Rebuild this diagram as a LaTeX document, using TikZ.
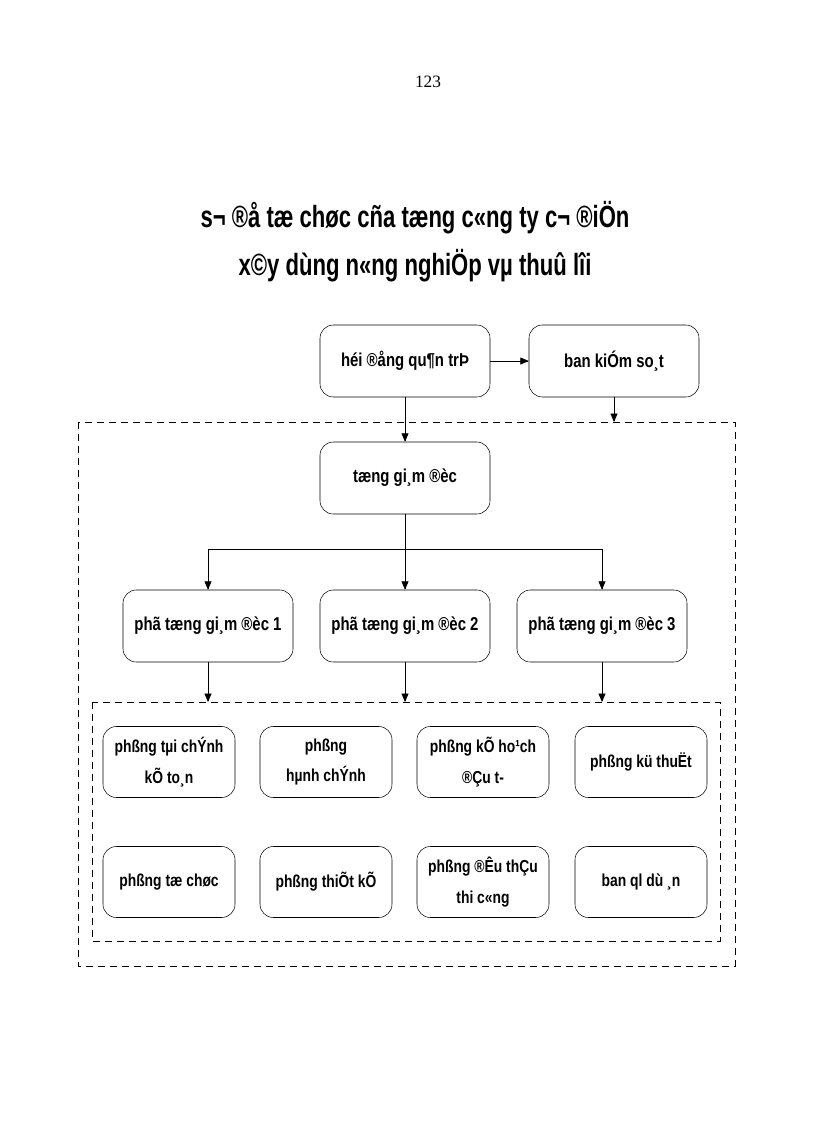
\documentclass[tikz,border=0pt]{standalone}
\usepackage{fontspec}
\setmainfont{Liberation Serif}
\newfontfamily\boxfont[FakeStretch=0.8]{Liberation Sans Bold}
\newfontfamily\titlefont[FakeStretch=0.72]{Liberation Sans Bold}
\usetikzlibrary{positioning,arrows}
\tikzstyle{unit} = [draw, rounded corners=10pt, minimum width=170*0.75pt, minimum height=72*0.75pt, align=center, font=\boxfont\fontsize{14}{20}\selectfont]
\tikzstyle{dept} = [unit, minimum width=132*0.75pt, minimum height=71*0.75pt, font=\boxfont\fontsize{13}{23}\selectfont]
\tikzstyle{frame} = [draw, dashed, dash pattern=on 5pt off 4pt]
\tikzstyle{link} = [-triangle 45, thin]
\begin{document}
\begin{tikzpicture}[x=0.75pt, y=-0.75pt]
  \useasboundingbox (0,0) rectangle (816,1123);
  \node (page) at (428,82) {\fontsize{13}{14}\selectfont 123};
  \node (title) at (415,242) [align=center, font=\titlefont\fontsize{23}{36}\selectfont] {s¬ ®å tæ chøc cña tæng c«ng ty c¬ ®iÖn\\ x©y dùng n«ng nghiÖp vµ thuû lîi};
  % outer and inner dashed frames
  \draw [frame] (78,422) rectangle (735,966);
  \draw [frame] (92,702) rectangle (720,941);
  % management
  \node (hd) at (405,361) [unit] {héi ®ång qu¶n trÞ};
  \node (bks) at (614,361) [unit] {ban kiÓm so¸t};
  \node (tgd) at (405,478) [unit] {tæng gi¸m ®èc};
  \node (pho1) at (208,626) [unit] {phã tæng gi¸m ®èc 1};
  \node (pho2) at (405,626) [unit] {phã tæng gi¸m ®èc 2};
  \node (pho3) at (602,626) [unit] {phã tæng gi¸m ®èc 3};
  % departments
  \node (tckt) at (169,762) [dept] {phßng tµi chÝnh\\ kÕ to¸n};
  \node (hc) at (326,762) [dept] {phßng\\ hµnh chÝnh};
  \node (khdt) at (483,762) [dept] {phßng kÕ ho¹ch\\ ®Çu t-};
  \node (kt) at (641,762) [dept] {phßng kü thuËt};
  \node (tc) at (169,882) [dept] {phßng tæ chøc};
  \node (tk) at (326,882) [dept] {phßng thiÕt kÕ};
  \node (dt) at (483,882) [dept] {phßng ®Êu thÇu\\ thi c«ng};
  \node (qlda) at (641,882) [dept] {ban ql dù ¸n};
  % connectors
  \coordinate (fbks) at (614,422);
  \coordinate (split) at (405,549);
  \coordinate (f1) at (208,702);
  \coordinate (f2) at (405,702);
  \coordinate (f3) at (602,702);
  \draw [link] (hd) -- (bks);
  \draw [link] (hd) -- (tgd);
  \draw [link] (bks) -- (fbks);
  \draw (tgd) -- (split);
  \draw [link] (split) -| (pho1);
  \draw [link] (split) -- (pho2);
  \draw [link] (split) -| (pho3);
  \draw [link] (pho1) -- (f1);
  \draw [link] (pho2) -- (f2);
  \draw [link] (pho3) -- (f3);
\end{tikzpicture}
\end{document}
